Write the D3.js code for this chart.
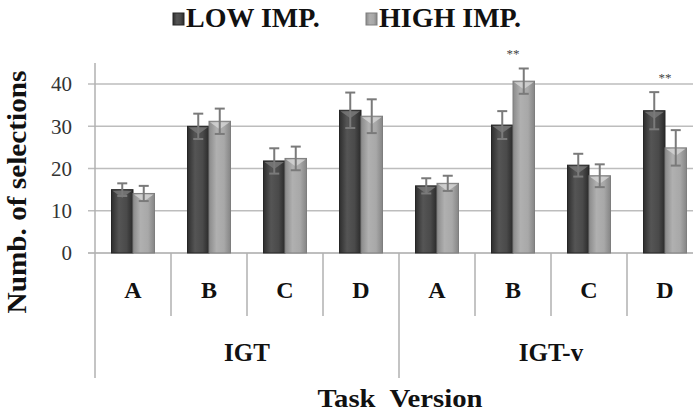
<!DOCTYPE html>
<html lang="en">
<head>
    <meta charset="UTF-8">
    <title>Numb. of selections by Task Version</title>
    <style>
        body {
            margin: 0;
            padding: 0;
            background-color: #ffffff;
        }
        #chart {
            width: 700px;
            height: 415px;
        }
        #chart svg text {
            font-family: "Liberation Serif", "Times New Roman", "DejaVu Serif", serif;
        }
    </style>
</head>
<body>

<div id="chart"></div>

<script src="https://d3js.org/d3.v7.min.js"></script>
<script>
    // Categories
    const groups = ["IGT", "IGT-v"];
    const decks = ["A", "B", "C", "D"];
    const seriesNames = ["LOW IMP.", "HIGH IMP."];

    // Values (in order IGT A..D, IGT-v A..D)
    const lowImp = [15, 30, 21.8, 33.8, 15.9, 30.3, 20.8, 33.7];
    const highImp = [14.1, 31.2, 22.4, 32.4, 16.5, 40.7, 18.3, 24.9];
    const lowErr = [1.5, 3, 3, 4.2, 1.8, 3.3, 2.7, 4.4];
    const highErr = [1.8, 3, 2.8, 4, 1.8, 3, 2.7, 4.2];

    // Significance marks
    const sigMarks = [
        { group: "IGT-v", deck: "B", label: "**" },
        { group: "IGT-v", deck: "D", label: "**" }
    ];

    // Y ticks
    const yTicks = [0, 10, 20, 30, 40];

    const width = 700,
          height = 415;

    const svg = d3.select("#chart").append("svg")
        .attr("width", width)
        .attr("height", height)
        .attr("font-family", "'Liberation Serif', 'Times New Roman', serif");

    // Build rows from the arrays
    const rows = [];
    groups.forEach((g, gi) => {
        decks.forEach((d, di) => {
            const i = gi * decks.length + di;
            rows.push({
                key: g + "-" + d, group: g, deck: d,
                low: lowImp[i], high: highImp[i],
                lowErr: lowErr[i], highErr: highErr[i]
            });
        });
    });

    // Scales
    const y = d3.scaleLinear().domain([0, 45]).range([253, 63]);
    const x0 = d3.scaleBand().domain(rows.map(r => r.key)).range([95, 703]);
    const barW = 21.5;
    const x1 = d3.scaleBand().domain(["low", "high"])
        .range([x0.bandwidth() / 2 - barW, x0.bandwidth() / 2 + barW]);
    const plotRight = 693;

    // Gradients for the bars
    const defs = svg.append("defs");
    const grads = [
        { id: "gLow", stops: ["#2e2e2e", "#555555", "#4a4a4a", "#2a2a2a"] },
        { id: "gHigh", stops: ["#8a8a8a", "#b0b0b0", "#a8a8a8", "#858585"] }
    ];
    grads.forEach(gd => {
        const lg = defs.append("linearGradient").attr("id", gd.id)
            .attr("x1", "0%").attr("x2", "100%").attr("y1", "0%").attr("y2", "0%");
        [0, 0.35, 0.7, 1].forEach((o, i) => {
            lg.append("stop").attr("offset", o).attr("stop-color", gd.stops[i]);
        });
    });

    // Gridlines
    svg.append("g")
        .selectAll("line")
        .data(yTicks)
        .enter().append("line")
        .attr("x1", 88)
        .attr("x2", plotRight)
        .attr("y1", d => y(d))
        .attr("y2", d => y(d))
        .attr("stroke", d => d === 0 ? "#a8a8a8" : "#bdbdbd")
        .attr("stroke-width", 1.5);

    // Y tick labels
    svg.append("g")
        .selectAll("text")
        .data(yTicks)
        .enter().append("text")
        .attr("x", 72)
        .attr("y", d => y(d))
        .attr("dy", "0.35em")
        .attr("text-anchor", "end")
        .style("font-size", "21px")
        .style("fill", "#333")
        .text(d => d);

    // Vertical axis line (continues down through category area)
    svg.append("line")
        .attr("x1", x0.range()[0]).attr("x2", x0.range()[0])
        .attr("y1", 63).attr("y2", 378)
        .attr("stroke", "#b0b0b0").attr("stroke-width", 1.5);

    // Category separators
    const seps = rows.slice(1).map(r => ({
        x: x0(r.key),
        long: r.deck === decks[0]
    }));
    svg.append("g")
        .selectAll("line")
        .data(seps)
        .enter().append("line")
        .attr("x1", d => d.x).attr("x2", d => d.x)
        .attr("y1", 253)
        .attr("y2", d => d.long ? 378 : 316)
        .attr("stroke", "#b0b0b0")
        .attr("stroke-width", 1.5);

    // Bars
    const cat = svg.append("g")
        .selectAll("g")
        .data(rows)
        .enter().append("g")
        .attr("transform", d => `translate(${x0(d.key)},0)`);

    const barData = d => [
        { s: "low", v: d.low, e: d.lowErr, fill: "url(#gLow)", stroke: "#262626", hi: "#7a7a7a" },
        { s: "high", v: d.high, e: d.highErr, fill: "url(#gHigh)", stroke: "#7e7e7e", hi: "#d6d6d6" }
    ];

    cat.selectAll("rect")
        .data(barData)
        .enter().append("rect")
        .attr("x", b => x1(b.s))
        .attr("y", b => y(b.v))
        .attr("width", x1.bandwidth())
        .attr("height", b => y(0) - y(b.v))
        .attr("fill", b => b.fill)
        .attr("stroke", b => b.stroke)
        .attr("stroke-width", 1);

    // bevel highlight at the top of each bar
    cat.selectAll("polygon")
        .data(barData)
        .enter().append("polygon")
        .attr("points", b => {
            const xl = x1(b.s) + 1, xr = x1(b.s) + x1.bandwidth() - 1, t = y(b.v) + 1;
            return `${xl},${t} ${xr},${t} ${(xl + xr) / 2},${t + 7}`;
        })
        .attr("fill", b => b.hi)
        .attr("opacity", 0.8);

    // Error bars
    const err = cat.selectAll("g.err")
        .data(barData)
        .enter().append("g")
        .attr("class", "err")
        .attr("stroke", "#7a7a7a")
        .attr("stroke-width", 2);

    err.append("line")
        .attr("x1", b => x1(b.s) + x1.bandwidth() / 2)
        .attr("x2", b => x1(b.s) + x1.bandwidth() / 2)
        .attr("y1", b => y(b.v + b.e))
        .attr("y2", b => y(b.v - b.e));
    err.append("line")
        .attr("x1", b => x1(b.s) + x1.bandwidth() / 2 - 5)
        .attr("x2", b => x1(b.s) + x1.bandwidth() / 2 + 5)
        .attr("y1", b => y(b.v + b.e))
        .attr("y2", b => y(b.v + b.e));
    err.append("line")
        .attr("x1", b => x1(b.s) + x1.bandwidth() / 2 - 5)
        .attr("x2", b => x1(b.s) + x1.bandwidth() / 2 + 5)
        .attr("y1", b => y(b.v - b.e))
        .attr("y2", b => y(b.v - b.e));

    // Significance marks
    svg.append("g")
        .selectAll("text")
        .data(sigMarks)
        .enter().append("text")
        .attr("x", d => x0(d.group + "-" + d.deck) + x0.bandwidth() / 2)
        .attr("y", d => {
            const r = rows.find(q => q.key === d.group + "-" + d.deck);
            return y(Math.max(r.low + r.lowErr, r.high + r.highErr)) - 10;
        })
        .attr("text-anchor", "middle")
        .style("font-size", "13px")
        .style("fill", "#444")
        .text(d => d.label);

    // Deck labels
    svg.append("g")
        .selectAll("text")
        .data(rows)
        .enter().append("text")
        .attr("x", d => x0(d.key) + x0.bandwidth() / 2)
        .attr("y", 290)
        .attr("dy", "0.35em")
        .attr("text-anchor", "middle")
        .style("font-size", "24px")
        .style("font-weight", "bold")
        .style("fill", "#111")
        .text(d => d.deck);

    // Group labels
    svg.append("g")
        .selectAll("text")
        .data(groups)
        .enter().append("text")
        .attr("x", g => {
            const ks = rows.filter(r => r.group === g).map(r => x0(r.key));
            return (d3.min(ks) + d3.max(ks) + x0.bandwidth()) / 2;
        })
        .attr("y", 352)
        .attr("dy", "0.35em")
        .attr("text-anchor", "middle")
        .style("font-size", "25px")
        .style("font-weight", "bold")
        .style("fill", "#111")
        .text(g => g);

    // Axis titles
    svg.append("text")
        .attr("x", 400)
        .attr("y", 407)
        .attr("text-anchor", "middle")
        .attr("textLength", 165)
        .attr("lengthAdjust", "spacingAndGlyphs")
        .style("font-size", "26px")
        .style("font-weight", "bold")
        .style("fill", "#111")
        .style("white-space", "pre")
        .text("Task  Version");

    svg.append("text")
        .attr("transform", "translate(26,192) rotate(-90)")
        .attr("text-anchor", "middle")
        .attr("textLength", 243)
        .attr("lengthAdjust", "spacingAndGlyphs")
        .style("font-size", "27px")
        .style("font-weight", "bold")
        .style("fill", "#111")
        .text("Numb. of selections");

    // Legend
    const legendItems = [
        { name: seriesNames[0], x: 173, fill: "url(#gLow)", stroke: "#262626" },
        { name: seriesNames[1], x: 366, fill: "url(#gHigh)", stroke: "#7e7e7e" }
    ];
    const legend = svg.append("g")
        .selectAll("g")
        .data(legendItems)
        .enter().append("g")
        .attr("transform", d => `translate(${d.x},0)`);
    legend.append("rect")
        .attr("x", 0).attr("y", 13)
        .attr("width", 11).attr("height", 12)
        .attr("fill", d => d.fill)
        .attr("stroke", d => d.stroke);
    legend.append("text")
        .attr("x", 13)
        .attr("y", 27)
        .style("font-size", "28px")
        .style("font-weight", "bold")
        .style("fill", "#111")
        .text(d => d.name);
</script>

</body>
</html>
